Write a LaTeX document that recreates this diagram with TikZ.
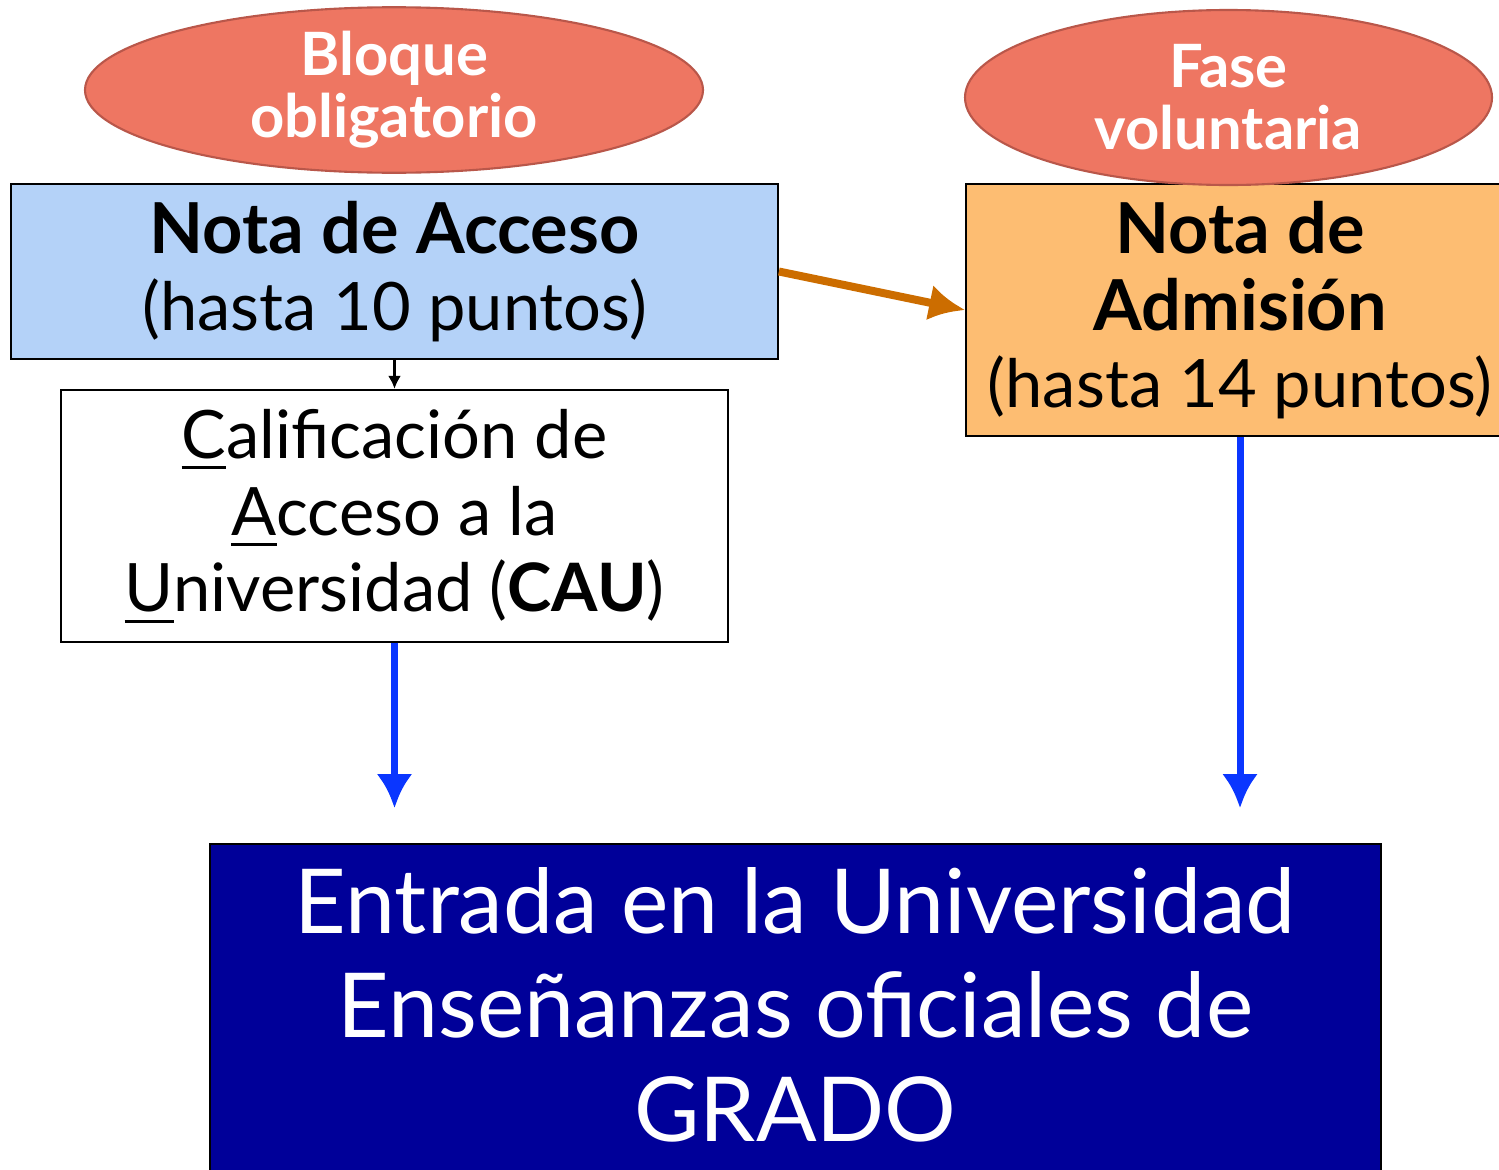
\documentclass[tikz,border=0pt]{standalone}
\usepackage{fontspec}
\setmainfont{Lato}
\usepackage{xcolor}
\usepackage{tikz}
\usetikzlibrary{arrows.meta}
\usetikzlibrary{positioning}
\usetikzlibrary{shapes.geometric}
\definecolor{tagfill}{HTML}{EE7662}
\definecolor{tagline}{HTML}{B9574A}
\definecolor{accesofill}{HTML}{B4D2F8}
\definecolor{admfill}{HTML}{FDBD72}
\definecolor{gradofill}{HTML}{000099}
\definecolor{orangearrow}{HTML}{CC6D00}
\definecolor{bluearrow}{HTML}{0A36FF}
\newcommand{\ulc}[1]{\setbox0\hbox{#1}\rlap{\rule[-0.16em]{\wd0}{0.9pt}}\box0}
\newcommand{\bigbf}[1]{{\fontsize{20}{21.9}\selectfont\bfseries #1}}
\tikzset{
    block/.style={
           rectangle,
           draw=black, line width=0.5pt,
           inner sep=0pt,
           align=center,
           },
    tag/.style={
           ellipse,
           fill=tagfill,
           draw=tagline, line width=0.6pt,
           inner sep=0pt,
           align=center,
           text=white,
           font=\fontsize{17}{17.6}\selectfont\bfseries,
           },
    bluearrow/.style={
           -{Latex[length=0.34cm,width=0.36cm]},
           line width=0.07cm,
           color=bluearrow,
           },
}

\begin{document}
\begin{tikzpicture}
	\useasboundingbox (0,0) rectangle (14.99,-11.69);
	\clip (0,0) rectangle (14.99,-11.69);
	\tikzset{mytext/.style={font=\fontsize{19}{21.9}\selectfont},};
	\node[block, mytext, fill=accesofill, minimum width=7.67cm, minimum height=1.75cm] (acceso) at (3.945,-2.715)
		{\bigbf{Nota de Acceso}\\(hasta 10 puntos)};
	\node[block, mytext, fill=white, minimum width=6.67cm, minimum height=2.52cm, below=0.29 of acceso] (cau)
		{\ulc{C}alificación de\\ \ulc{A}cceso a la\\ \ulc{U}niversidad (\textbf{CAU})};
	\node[block, mytext, fill=admfill, minimum width=5.48cm, minimum height=2.52cm] (admision) at (12.40,-3.10)
		{\bigbf{Nota de}\\\bigbf{Admisión}\\(hasta 14 puntos)};
	\node[tag, minimum width=6.18cm, minimum height=1.44cm] (bloque) at (3.94,-0.90) {Bloque\\obligatorio};
	\node[tag, minimum width=5.27cm, minimum height=1.75cm] (fase) at (12.285,-0.975) {Fase\\voluntaria};
	
	%grado box
	\node[block, align=none, fill=gradofill, text=white, font=\fontsize{25.5}{29.6}\selectfont, minimum width=11.71cm,
		inner ysep=0.2cm, text height=0.7cm, text depth=3cm, anchor=north] (grado) at (7.955,-8.43)
		{\begin{tabular}[t]{c}
			Entrada en la Universidad\\
			Enseñanzas oficiales de\\
			GRADO
		\end{tabular}};
	
	%EDGES
	\path (cau.south |- grado.north) ++(0,0.35) coordinate (endl);
	\path (admision.south |- grado.north) ++(0,0.35) coordinate (endr);
	
	\path[-{Latex[length=0.13cm,width=0.13cm]}, line width=1pt] (acceso.south) edge (cau.north);
	\path[-{Latex[length=0.36cm,width=0.36cm]}, line width=0.08cm, color=orangearrow] (acceso.east) edge (admision.west);
	\path[bluearrow] (cau.south) edge (endl)
				(admision.south) edge (endr);
\end{tikzpicture}
\end{document}
